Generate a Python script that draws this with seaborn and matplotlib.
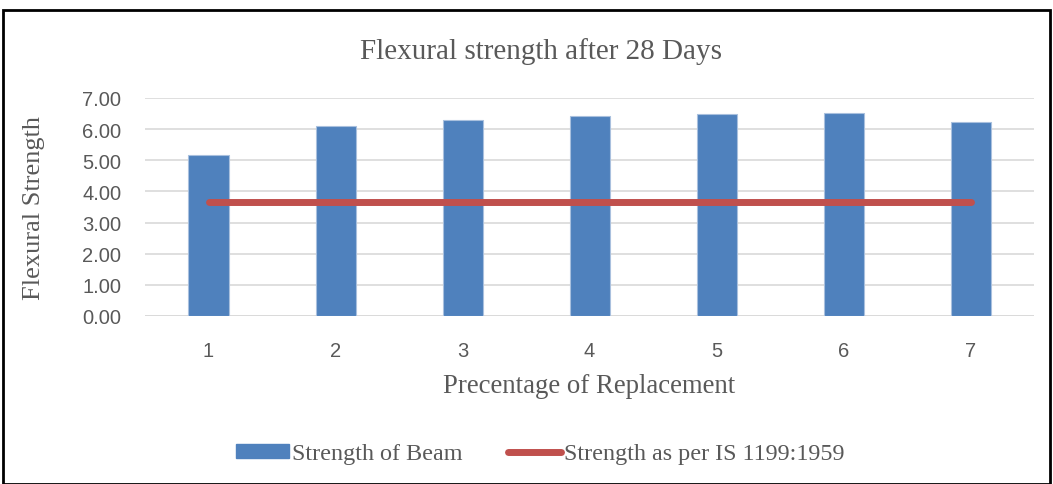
import matplotlib
matplotlib.use("Agg")
import matplotlib.pyplot as plt
import seaborn as sns
import numpy as np
import pandas as pd
from matplotlib.patches import Rectangle, Patch
from matplotlib.lines import Line2D

categories = ["1", "2", "3", "4", "5", "6", "7"]
beam_strength = [5.17, 6.10, 6.29, 6.42, 6.48, 6.53, 6.23]
is_strength = [3.65, 3.65, 3.65, 3.65, 3.65, 3.65, 3.65]
yticks = [0, 1, 2, 3, 4, 5, 6, 7]

BLUE = "#4f81bd"
RED = "#c0504d"
GRAY = "#595959"
SERIF = "Liberation Serif"
SANS = "Liberation Sans"

sns.set_style("white")

fig = plt.figure(figsize=(10.53, 4.85), dpi=100)
ax = fig.add_axes([0.1377, 0.3464, 0.8443, 0.4495])

df = pd.DataFrame({"cat": categories, "beam": beam_strength, "is": is_strength})
sns.barplot(data=df, x="cat", y="beam", color=BLUE, width=0.315, ax=ax,
            saturation=1, edgecolor="#a9c0de", linewidth=0.8)
sns.lineplot(x=np.arange(len(categories)), y=is_strength, color=RED, linewidth=5,
             ax=ax, solid_capstyle="round")

ax.set_ylim(0, 7)
ax.set_xlim(-0.5, len(categories) - 0.5)
ax.set_yticks(yticks)
ax.set_yticklabels([f"{v:.2f}" for v in yticks], fontfamily=SANS, fontsize=14.5, color=GRAY)
ax.set_xticks(range(len(categories)))
ax.set_xticklabels(categories, fontfamily=SANS, fontsize=14.5, color=GRAY)
ax.tick_params(axis="both", length=0)
ax.tick_params(axis="y", pad=17)
ax.tick_params(axis="x", pad=18)
ax.yaxis.grid(True, color="#d9d9d9", linewidth=1.2)
ax.set_axisbelow(True)
for s in ax.spines.values():
    s.set_visible(False)
ax.axhline(0, color="#d9d9d9", linewidth=1.2, zorder=0.5)

ax.set_xlabel("Precentage of Replacement", fontfamily=SERIF, fontsize=19.3, color=GRAY)
ax.xaxis.set_label_coords(0.5, -0.317)
ax.xaxis.label.set_va("center")
ax.set_ylabel("Flexural Strength", fontfamily=SERIF, fontsize=19, color=GRAY)
ax.yaxis.set_label_coords(-0.125, 0.5)
ax.yaxis.label.set_va("center")

fig.text(0.5135, 0.893, "Flexural strength after 28 Days", fontfamily=SERIF, fontsize=21,
         color=GRAY, ha="center", va="center")

handles = [Patch(facecolor=BLUE, edgecolor=BLUE),
           Line2D([0], [0], color=RED, linewidth=5, solid_capstyle="round")]
labels = ["Strength of Beam", "Strength as per IS 1199:1959"]
leg = fig.legend(handles, labels, loc="center", bbox_to_anchor=(0.513, 0.062), ncol=2,
                 frameon=False, prop={"family": SERIF, "size": 17.4}, labelcolor=GRAY,
                 handlelength=2.2, handletextpad=0.12, columnspacing=1.9, handleheight=0.55)

fig.patches.append(Rectangle((3 / 1053, 0.0), 1047 / 1053, 1 - 11 / 485, transform=fig.transFigure,
                             fill=False, edgecolor="black", linewidth=2, clip_on=False))

fig.savefig("out.png", dpi=100)
